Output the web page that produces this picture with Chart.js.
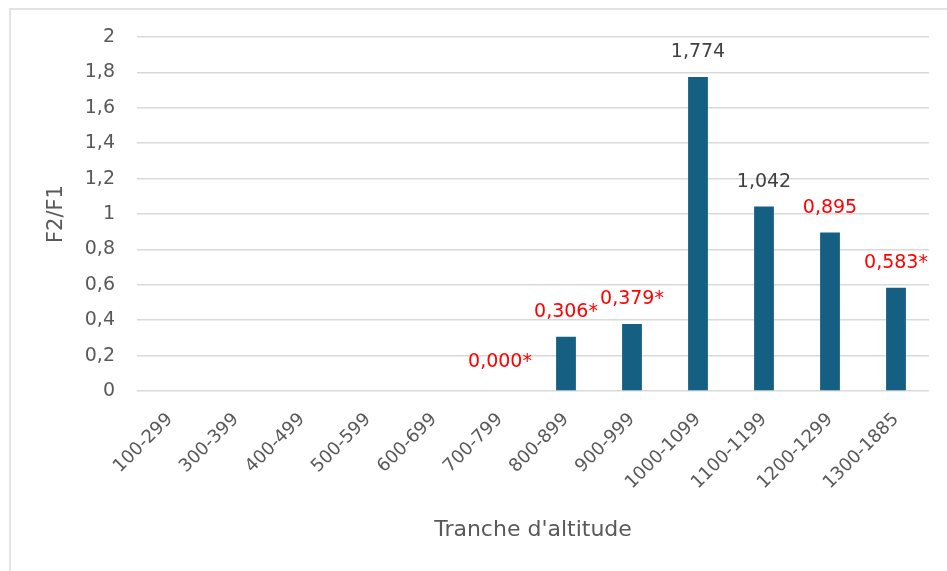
<!DOCTYPE html>
<html>
<head>
<meta charset="utf-8">
<script src="https://cdn.jsdelivr.net/npm/chart.js@4/dist/chart.umd.min.js"></script>
<style>
  html, body { margin: 0; padding: 0; background: #fff; overflow: hidden; }
  #frame { position: absolute; left: 9px; top: 8px; width: 960px; height: 600px;
           border-top: 2px solid #e3e3e3; border-left: 2px solid #e3e3e3; }
  #wrap { position: absolute; left: 0; top: 0; width: 947px; height: 571px; }
</style>
</head>
<body>
<div id="frame"></div>
<div id="wrap"><canvas id="myChart" width="947" height="571"></canvas></div>
<script>
// categories (altitude bands)
const tranches = ['100-299', '300-399', '400-499', '500-599', '600-699', '700-799',
                  '800-899', '900-999', '1000-1099', '1100-1199', '1200-1299', '1300-1885'];
// F2/F1 ratio per band (null = no bar)
const ratios = [null, null, null, null, null, 0, 0.306, 0.379, 1.774, 1.042, 0.895, 0.583];
// labels printed above bars, and which ones are flagged in red
const valueLabels = [null, null, null, null, null, '0,000*', '0,306*', '0,379*', '1,774', '1,042', '0,895', '0,583*'];
const redFlags = [false, false, false, false, false, true, true, true, false, false, true, true];
const yTicks = [0, 0.2, 0.4, 0.6, 0.8, 1, 1.2, 1.4, 1.6, 1.8, 2];

const ctx = document.getElementById('myChart');
const fontFam = '"DejaVu Sans"';

// small plugin to write the values above the bars
const barValues = {
    id: 'barValues',
    afterDatasetsDraw: function (chart) {
        const c = chart.ctx;
        const meta = chart.getDatasetMeta(0);
        c.save();
        c.font = '19px ' + fontFam;
        c.textAlign = 'center';
        c.textBaseline = 'middle';
        meta.data.forEach(function (bar, i) {
            if (!valueLabels[i]) return;
            c.fillStyle = redFlags[i] ? '#ff0000' : '#404040';
            const top = ratios[i] === 0 ? bar.base : bar.y;
            c.fillText(valueLabels[i], bar.x, top - (ratios[i] === 0 ? 29 : 25));
        });
        c.restore();
    }
};

new Chart(ctx, {
    type: 'bar',
    data: {
        labels: tranches,
        datasets: [{
            label: 'F2/F1',
            data: ratios,
            backgroundColor: '#156082',
            borderWidth: 0,
            barPercentage: 0.6,
            categoryPercentage: 0.5
        }]
    },
    plugins: [barValues],
    options: {
        responsive: false,
        animation: false,
        layout: { padding: { top: 37, right: 18, left: 0, bottom: 0 } },
        plugins: {
            legend: { display: false },
            tooltip: { enabled: false }
        },
        scales: {
            x: {
                grid: { display: false, drawTicks: false },
                border: { display: false },
                ticks: {
                    color: '#595959',
                    font: { family: 'DejaVu Sans', size: 18 },
                    minRotation: 45, maxRotation: 45,
                    padding: 18
                },
                title: {
                    display: true, text: "Tranche d'altitude", color: '#595959',
                    font: { family: 'DejaVu Sans', size: 22 },
                    padding: { top: 0, bottom: 28 }
                },
                afterFit: function (axis) { axis.height = 180; }
            },
            y: {
                min: 0, max: 2,
                grid: { color: '#d9d9d9', lineWidth: 1.5, drawTicks: false },
                border: { display: false },
                afterBuildTicks: function (axis) {
                    axis.ticks = yTicks.map(function (v) { return { value: v }; });
                },
                ticks: {
                    color: '#595959',
                    font: { family: 'DejaVu Sans', size: 19 },
                    padding: 22,
                    callback: function (v) { return String(Math.round(v * 10) / 10).replace('.', ','); }
                },
                title: {
                    display: true, text: 'F2/F1', color: '#595959',
                    font: { family: 'DejaVu Sans', size: 21 },
                    padding: { top: 44, bottom: 0 }
                },
                afterFit: function (axis) { axis.width = 137; }
            }
        }
    }
});
</script>
</body>
</html>
